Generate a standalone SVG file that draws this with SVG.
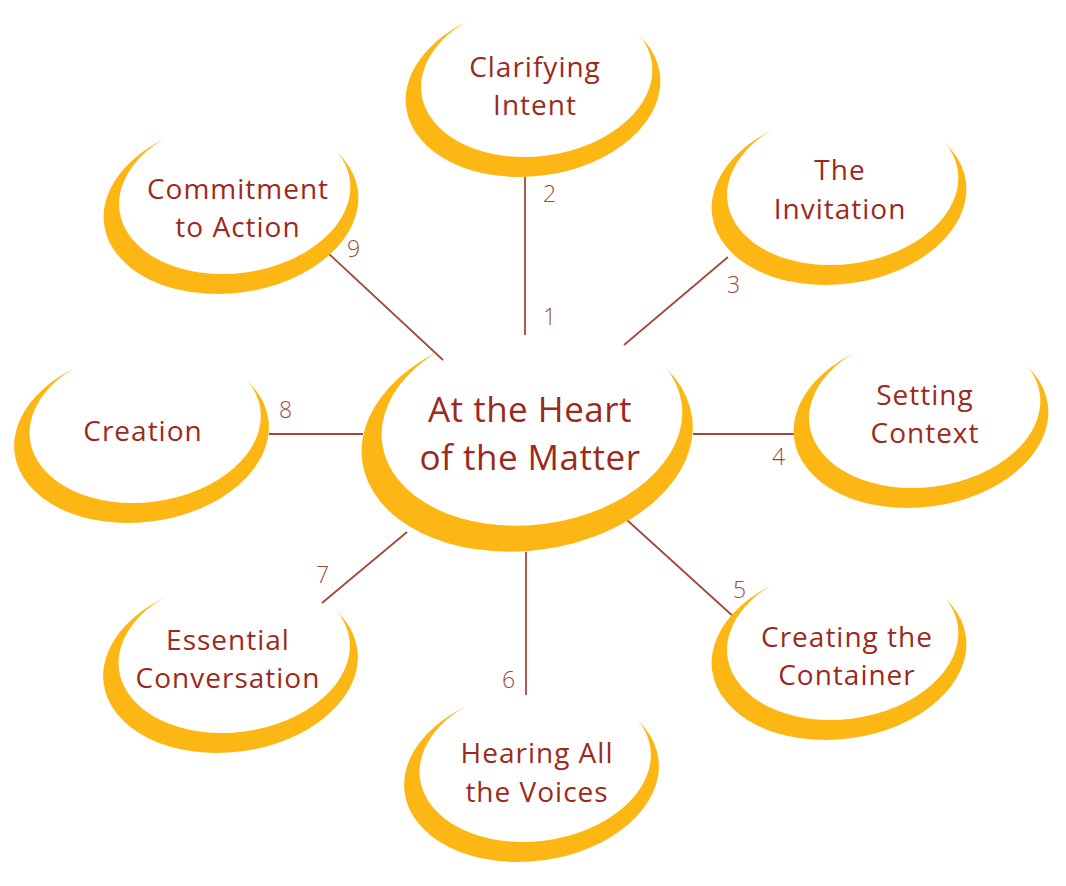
<svg xmlns="http://www.w3.org/2000/svg" xmlns:xlink="http://www.w3.org/1999/xlink" width="1066" height="886" viewBox="0 0 1066 886">
  <style>
    .lbl { font-family: "Open Sans", "Noto Sans", "Liberation Sans", sans-serif; font-size: 28px; fill: #9C2A1C; text-anchor: middle; letter-spacing: 1px; }
    .big { font-size: 35px; letter-spacing: 0.5px; }
    .num { font-family: "Open Sans", "Noto Sans", "Liberation Sans", sans-serif; font-size: 23px; fill: #A5483A; font-weight: 300; }
    .conn line { stroke: #A5483A; stroke-width: 1.8; fill: none; }
    .cres { fill: #FDB714; }
  </style>
  <defs>
    <mask id="cut" maskUnits="userSpaceOnUse" x="-200" y="-200" width="400" height="400">
      <rect x="-200" y="-200" width="400" height="400" fill="#FFFFFF"/>
      <ellipse cx="4.18" cy="-19.55" rx="116.2" ry="77.7" transform="rotate(-7.6 4.18 -19.55)" fill="#000000"/>
    </mask>
    <g id="crescent" mask="url(#cut)">
      <ellipse class="cres" cx="0.5" cy="-7.5" rx="128" ry="85.6" transform="rotate(-7.6 0.5 -7.5)"/>
    </g>
  </defs>
  <rect width="1066" height="886" fill="#FFFFFF"/>

  <g id="connectors" class="conn">
    <line x1="525" y1="177" x2="525" y2="335"/>
    <line x1="624" y1="345" x2="728" y2="257"/>
    <line x1="693" y1="434" x2="795" y2="434"/>
    <line x1="627" y1="520" x2="735" y2="618"/>
    <line x1="526" y1="552" x2="526" y2="695"/>
    <line x1="407" y1="532" x2="322" y2="603"/>
    <line x1="269" y1="434" x2="363" y2="434"/>
    <line x1="328" y1="253" x2="443" y2="360"/>
  </g>

  <g id="numbers">
    <text class="num" x="543" y="202">2</text>
    <text class="num" x="543" y="325">1</text>
    <text class="num" x="727" y="293">3</text>
    <text class="num" x="772" y="465">4</text>
    <text class="num" x="733" y="598">5</text>
    <text class="num" x="502" y="688">6</text>
    <text class="num" x="316" y="583">7</text>
    <text class="num" x="279" y="418">8</text>
    <text class="num" x="347" y="257">9</text>
  </g>

  <g id="node-center">
    <use xlink:href="#crescent" href="#crescent" transform="translate(526.5 449) scale(1.3)"/>
    <text class="lbl big" x="530" y="422">At the Heart</text>
    <text class="lbl big" x="530" y="470">of the Matter</text>
  </g>
  <g id="node-clarifying">
    <use xlink:href="#crescent" href="#crescent" transform="translate(532.5 98)"/>
    <text class="lbl" x="535" y="77">Clarifying</text>
    <text class="lbl" x="535" y="115">Intent</text>
  </g>
  <g id="node-invitation">
    <use xlink:href="#crescent" href="#crescent" transform="translate(838.5 206)"/>
    <text class="lbl" x="840" y="180">The</text>
    <text class="lbl" x="840" y="219">Invitation</text>
  </g>
  <g id="node-setting">
    <use xlink:href="#crescent" href="#crescent" transform="translate(920.5 429)"/>
    <text class="lbl" x="925" y="405">Setting</text>
    <text class="lbl" x="925" y="443">Context</text>
  </g>
  <g id="node-container">
    <use xlink:href="#crescent" href="#crescent" transform="translate(838.5 661)"/>
    <text class="lbl" x="847" y="647">Creating the</text>
    <text class="lbl" x="847" y="685">Container</text>
  </g>
  <g id="node-voices">
    <use xlink:href="#crescent" href="#crescent" transform="translate(531 783)"/>
    <text class="lbl" x="537" y="763">Hearing All</text>
    <text class="lbl" x="537" y="802">the Voices</text>
  </g>
  <g id="node-conversation">
    <use xlink:href="#crescent" href="#crescent" transform="translate(230 674)"/>
    <text class="lbl" x="228" y="650">Essential</text>
    <text class="lbl" x="228" y="688">Conversation</text>
  </g>
  <g id="node-creation">
    <use xlink:href="#crescent" href="#crescent" transform="translate(141 444)"/>
    <text class="lbl" x="143" y="441">Creation</text>
  </g>
  <g id="node-commitment">
    <use xlink:href="#crescent" href="#crescent" transform="translate(230.5 215)"/>
    <text class="lbl" x="238" y="199">Commitment</text>
    <text class="lbl" x="238" y="237">to Action</text>
  </g>
</svg>
